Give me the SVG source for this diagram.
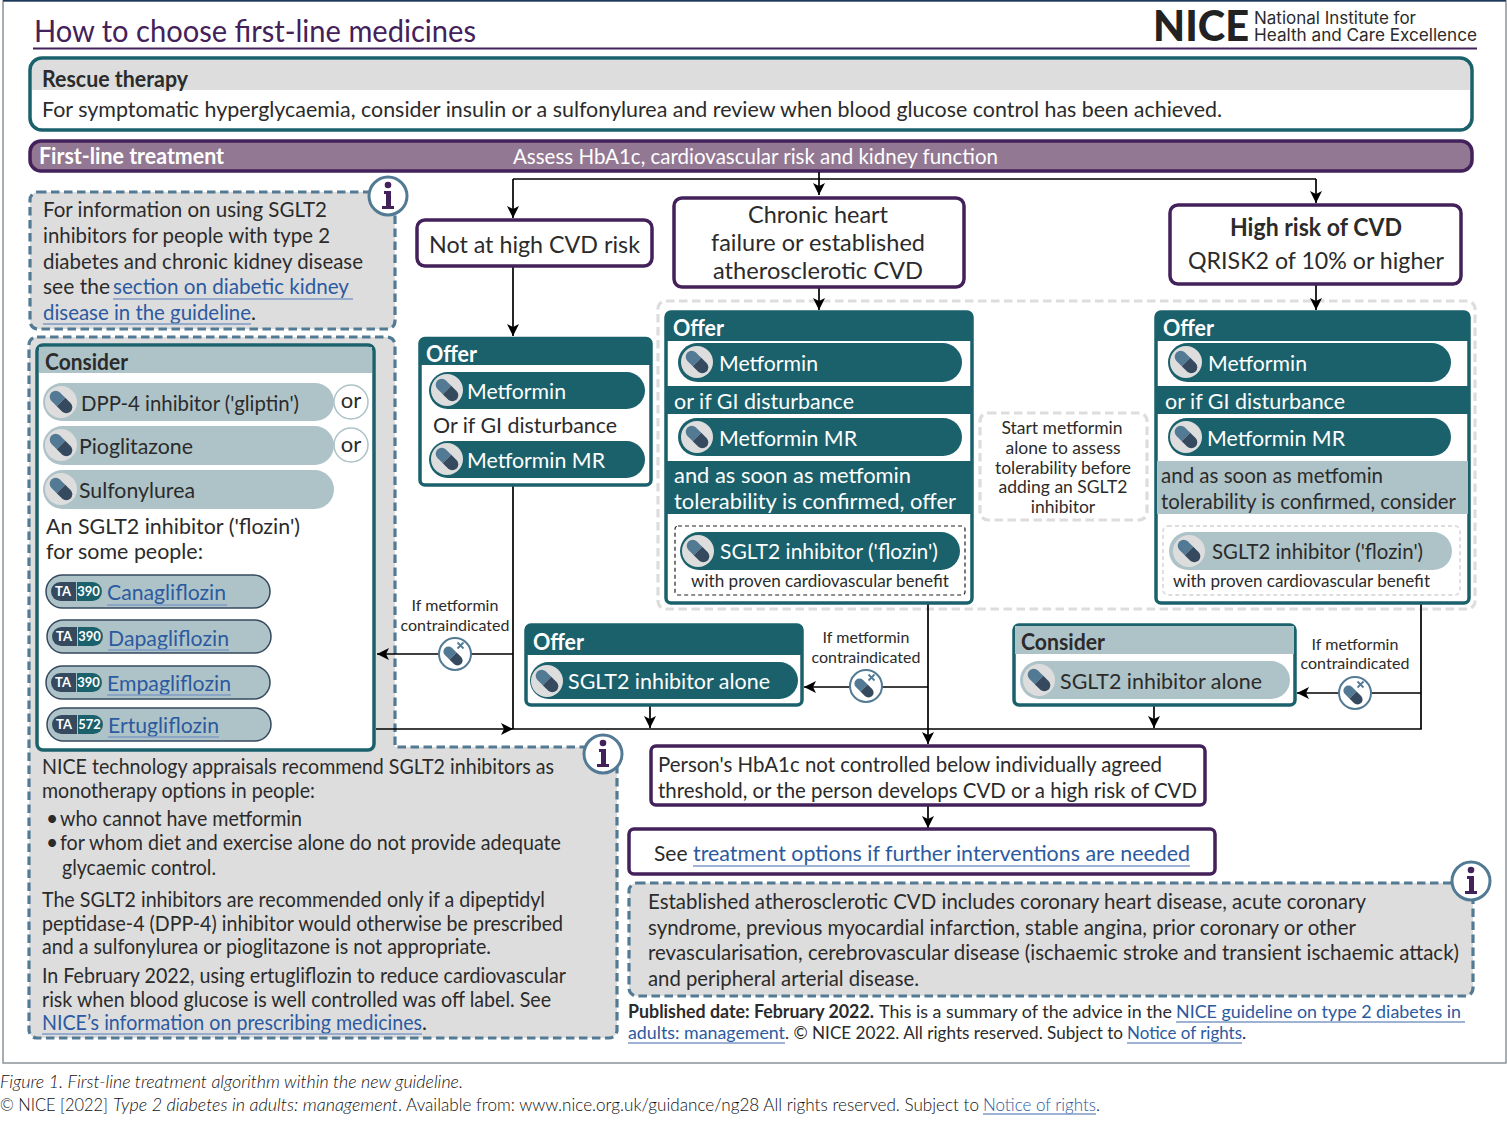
<svg xmlns="http://www.w3.org/2000/svg" width="1507" height="1121" viewBox="0 0 1507 1121">
<style>
text{font-family:"Lato","Carlito","Open Sans","Liberation Sans",sans-serif;fill:#2b2b2b;font-size:22px}
.b{font-weight:700}
.w{fill:#fff}
.l{fill:#2b5aa0}
.ul{stroke:#7f9bc6;stroke-width:1.5;fill:none}
.s{font-size:16px}
.c{text-anchor:middle}
.h{font-size:24px}
.n{font-size:17.5px}
.p{font-size:18px}
.t{font-size:21px}
.cap{font-size:17.5px;font-weight:300;fill:#111}
.i{font-style:italic}
.teal{fill:#1b616c}
.pale{fill:#aec3c8}
.box{fill:#fff;stroke:#1b616c;stroke-width:3.5}
.pur{fill:#fff;stroke:#43215a;stroke-width:3.5}
.info{fill:#ddd;stroke:#537a94;stroke-width:3.2;stroke-dasharray:8.500 4.500}
.lt{fill:none;stroke:#ddd;stroke-width:3.2;stroke-dasharray:8.500 4.500}
.cn{fill:none;stroke:#000;stroke-width:1.7}
.ta{font-size:13px;fill:#fff;font-weight:700}
.tp{fill:#aec3c8;stroke:#35495f;stroke-width:1.500}
</style>
<defs>
<marker id="ah" markerUnits="userSpaceOnUse" markerWidth="14" markerHeight="14" refX="12" refY="6" orient="auto"><path d="M0 0L12 6L0 12L3 6Z" fill="#000"/></marker>
<g id="cap"><g transform="rotate(45)"><path d="M0-6H-7.500a6 6 0 0 0 0 12H0Z" fill="#537a94"/><path d="M0-6H7.500a6 6 0 0 1 0 12H0Z" fill="#35495f"/></g></g>
<g id="pill"><circle r="16" fill="#ddd"/><use href="#cap"/></g>
<g id="nopill"><circle r="16" fill="#fff" stroke="#537a94" stroke-width="2"/><use href="#cap" transform="translate(-2 2) scale(.85)"/><path d="M2.500-11.500L8.500-5.500M8.500-11.500L2.500-5.500" stroke="#537a94" stroke-width="1.800"/></g>
<g id="i"><circle r="19" fill="#fff" stroke="#537a94" stroke-width="3"/><circle cy="-11" r="3.300" fill="#43215a"/><path d="M-4-5H3V10H6V13H-6V10H-2V-2H-4Z" fill="#43215a"/></g>
</defs>

<g id="frame"><path d="M3 1H1506V1063H3Z" fill="#fff" stroke="#8c9299" stroke-width="1.500"/><path d="M3 .7H1506" stroke="#1c3a5e" stroke-width="1.500"/></g>

<g id="header">
<text x="34" y="42" style="font-size:30px;fill:#43215a" textLength="442" lengthAdjust="spacingAndGlyphs">How to choose first-line medicines</text>
<path d="M33 48.500H1477" stroke="#43215a" stroke-width="1.800"/>
<text x="1153" y="41" style="font-size:42px;font-weight:900;fill:#222" textLength="96" lengthAdjust="spacingAndGlyphs">NICE</text>
<text x="1254" y="23.500" style="font-size:17px;font-family:Inter,sans-serif" textLength="162" lengthAdjust="spacingAndGlyphs">National Institute for</text>
<text x="1254" y="41" style="font-size:17px;font-family:Inter,sans-serif" textLength="223" lengthAdjust="spacingAndGlyphs">Health and Care Excellence</text>
</g>

<g id="rescue">
<rect x="30" y="58" width="1442" height="72" rx="12" fill="#fff"/>
<path d="M32 90V70A10 10 0 0 1 42 60H1460A10 10 0 0 1 1470 70V90Z" fill="#ddd"/>
<rect x="30" y="58" width="1442" height="72" rx="12" fill="none" stroke="#1b616c" stroke-width="3.500"/>
<text x="42" y="87" class="b" textLength="146" lengthAdjust="spacingAndGlyphs">Rescue therapy</text>
<text x="42" y="117" textLength="1180" lengthAdjust="spacingAndGlyphs">For symptomatic hyperglycaemia, consider insulin or a sulfonylurea and review when blood glucose control has been achieved.</text>
</g>

<g id="first-line">
<rect x="30" y="141" width="1442" height="30" rx="11" fill="#937894" stroke="#43215a" stroke-width="3.500"/>
<text x="39" y="164" class="b w" textLength="185" lengthAdjust="spacingAndGlyphs">First-line treatment</text>
<text x="513" y="164" class="w t" textLength="485" lengthAdjust="spacingAndGlyphs">Assess HbA1c, cardiovascular risk and kidney function</text>
</g>

<g id="info-ckd">
<rect x="30" y="192" width="365" height="137" rx="8" class="info"/>
<text x="43" y="217" class="t" textLength="284" lengthAdjust="spacingAndGlyphs">For information on using SGLT2</text>
<text x="43" y="243" class="t" textLength="287" lengthAdjust="spacingAndGlyphs">inhibitors for people with type 2</text>
<text x="43" y="269" class="t" textLength="320" lengthAdjust="spacingAndGlyphs">diabetes and chronic kidney disease</text>
<text x="43" y="294" class="t">see the <tspan x="113" class="l t" textLength="236" lengthAdjust="spacingAndGlyphs">section on diabetic kidney</tspan></text>
<text x="43" y="320" class="t"><tspan class="l t" textLength="208" lengthAdjust="spacingAndGlyphs">disease in the guideline</tspan><tspan x="251">.</tspan></text>
<path class="ul" d="M113 299H353M43 324H251"/>
<use href="#i" x="388" y="196"/>
</g>

<g id="info-ta">
<path class="info" d="M37 337H387A8 8 0 0 1 395 345V747H609A8 8 0 0 1 617 755V1030A8 8 0 0 1 609 1038H37A8 8 0 0 1 29 1030V345A8 8 0 0 1 37 337Z"/>
<text x="42" y="774" class="t" textLength="512" lengthAdjust="spacingAndGlyphs">NICE technology appraisals recommend SGLT2 inhibitors as</text>
<text x="42" y="798" class="t" textLength="273" lengthAdjust="spacingAndGlyphs">monotherapy options in people:</text>
<text x="46" y="826" class="t">•</text><text x="60" y="826" class="t" textLength="242" lengthAdjust="spacingAndGlyphs">who cannot have metformin</text>
<text x="46" y="850" class="t">•</text><text x="60" y="850" class="t" textLength="501" lengthAdjust="spacingAndGlyphs">for whom diet and exercise alone do not provide adequate</text>
<text x="62" y="875" class="t" textLength="154" lengthAdjust="spacingAndGlyphs">glycaemic control.</text>
<text x="42" y="907" class="t" textLength="503" lengthAdjust="spacingAndGlyphs">The SGLT2 inhibitors are recommended only if a dipeptidyl</text>
<text x="42" y="931" class="t" textLength="521" lengthAdjust="spacingAndGlyphs">peptidase-4 (DPP-4) inhibitor would otherwise be prescribed</text>
<text x="42" y="954" class="t" textLength="449" lengthAdjust="spacingAndGlyphs">and a sulfonylurea or pioglitazone is not appropriate.</text>
<text x="42" y="983" class="t" textLength="524" lengthAdjust="spacingAndGlyphs">In February 2022, using ertugliflozin to reduce cardiovascular</text>
<text x="42" y="1007" class="t" textLength="509" lengthAdjust="spacingAndGlyphs">risk when blood glucose is well controlled was off label. See</text>
<text x="42" y="1030" class="t"><tspan class="l t" textLength="380" lengthAdjust="spacingAndGlyphs">NICE’s information on prescribing medicines</tspan><tspan x="422">.</tspan></text>
<path class="ul" d="M42 1034H422"/>
<use href="#i" x="603" y="754"/>
</g>

<g id="consider-left">
<rect x="37" y="345" width="337" height="405" rx="6" class="box"/>
<rect x="39" y="347" width="333" height="26" class="pale"/>
<text x="45" y="370" class="b" textLength="83" lengthAdjust="spacingAndGlyphs">Consider</text>
<rect x="43" y="383" width="291" height="38" rx="19" class="pale"/><use href="#pill" x="61" y="402"/>
<text x="81" y="411" class="t" textLength="218" lengthAdjust="spacingAndGlyphs">DPP-4 inhibitor ('gliptin')</text>
<rect x="43" y="426" width="291" height="39" rx="19.500" class="pale"/><use href="#pill" x="61" y="445"/>
<text x="79" y="454" textLength="114" lengthAdjust="spacingAndGlyphs">Pioglitazone</text>
<rect x="43" y="470" width="291" height="39" rx="19.500" class="pale"/><use href="#pill" x="61" y="489"/>
<text x="79" y="498" textLength="116" lengthAdjust="spacingAndGlyphs">Sulfonylurea</text>
<circle cx="351" cy="402" r="17" fill="#fff" stroke="#aec3c8" stroke-width="1.500"/><text x="351" y="408" class="c">or</text>
<circle cx="351" cy="445" r="17" fill="#fff" stroke="#aec3c8" stroke-width="1.500"/><text x="351" y="452" class="c">or</text>
<text x="46" y="534" textLength="254" lengthAdjust="spacingAndGlyphs">An SGLT2 inhibitor ('flozin')</text>
<text x="46" y="559" textLength="157" lengthAdjust="spacingAndGlyphs">for some people:</text>

<g id="canagliflozin"><rect x="46" y="575" width="224" height="33" rx="16.500" class="tp"/>
<path d="M76 582H60.500a9.500 9.500 0 0 0 0 19H76Z" fill="#35495f"/><path d="M77 582H92.500a9.500 9.500 0 0 1 0 19H77Z" class="teal"/>
<text x="63" y="596" class="ta c">TA</text><text x="88.500" y="596" class="ta c">390</text>
<text x="107" y="600" class="l" textLength="119" lengthAdjust="spacingAndGlyphs">Canagliflozin</text><path class="ul" d="M107 605H227"/></g>
<g id="dapagliflozin"><rect x="47" y="620" width="224" height="33" rx="16.500" class="tp"/>
<path d="M77 627H61.500a9.500 9.500 0 0 0 0 19H77Z" fill="#35495f"/><path d="M78 627H93.500a9.500 9.500 0 0 1 0 19H78Z" class="teal"/>
<text x="64" y="641" class="ta c">TA</text><text x="89.500" y="641" class="ta c">390</text>
<text x="108" y="646" class="l" textLength="121" lengthAdjust="spacingAndGlyphs">Dapagliflozin</text><path class="ul" d="M108 650H229"/></g>
<g id="empagliflozin"><rect x="46" y="666" width="224" height="33" rx="16.500" class="tp"/>
<path d="M76 673H60.500a9.500 9.500 0 0 0 0 19H76Z" fill="#35495f"/><path d="M77 673H92.500a9.500 9.500 0 0 1 0 19H77Z" class="teal"/>
<text x="63" y="687" class="ta c">TA</text><text x="88.500" y="687" class="ta c">390</text>
<text x="107" y="691" class="l" textLength="124" lengthAdjust="spacingAndGlyphs">Empagliflozin</text><path class="ul" d="M107 695H231"/></g>
<g id="ertugliflozin"><rect x="47" y="708" width="224" height="33" rx="16.500" class="tp"/>
<path d="M77 715H61.500a9.500 9.500 0 0 0 0 19H77Z" fill="#35495f"/><path d="M78 715H93.500a9.500 9.500 0 0 1 0 19H78Z" class="teal"/>
<text x="64" y="729" class="ta c">TA</text><text x="89.500" y="729" class="ta c">572</text>
<text x="108" y="733" class="l" textLength="111" lengthAdjust="spacingAndGlyphs">Ertugliflozin</text><path class="ul" d="M108 737H219"/></g>
</g>

<g id="light-dashed">
<rect x="658" y="301" width="817" height="308" rx="8" class="lt"/>
</g>
<g id="start-note">
<rect x="980" y="413" width="167" height="107" rx="8" class="lt"/>
<text x="1062" y="434" class="c n">Start metformin</text>
<text x="1063" y="454" class="c n">alone to assess</text>
<text x="1063" y="474" class="c n">tolerability before</text>
<text x="1063" y="493" class="c n">adding an SGLT2</text>
<text x="1063" y="513" class="c n">inhibitor</text>
</g>

<g id="connectors">
<path class="cn" d="M513 179H1316"/>
<path class="cn" d="M819 172V195" marker-end="url(#ah)"/>
<path class="cn" d="M513 179V218" marker-end="url(#ah)"/>
<path class="cn" d="M1316 179V203" marker-end="url(#ah)"/>
<path class="cn" d="M513 267V336" marker-end="url(#ah)"/>
<path class="cn" d="M819 288V310" marker-end="url(#ah)"/>
<path class="cn" d="M1316 285V310" marker-end="url(#ah)"/>
<path class="cn" d="M513 486V729"/>
<path class="cn" d="M513 654H377" marker-end="url(#ah)"/>
<path class="cn" d="M376 729H513" marker-end="url(#ah)"/>
<path class="cn" d="M513 729H1421V603"/>
<path class="cn" d="M928 603V744" marker-end="url(#ah)"/>
<path class="cn" d="M928 687H804" marker-end="url(#ah)"/>
<path class="cn" d="M650 706V728" marker-end="url(#ah)"/>
<path class="cn" d="M1154 706V728" marker-end="url(#ah)"/>
<path class="cn" d="M1421 693H1297" marker-end="url(#ah)"/>
<path class="cn" d="M928 806V828" marker-end="url(#ah)"/>
</g>

<g id="not-high"><rect x="417" y="220" width="235" height="46" rx="8" class="pur"/><text x="429" y="253" class="h" textLength="211" lengthAdjust="spacingAndGlyphs">Not at high CVD risk</text></g>
<g id="chf"><rect x="674" y="198" width="290" height="89" rx="8" class="pur"/>
<text x="748" y="223" class="h" textLength="140" lengthAdjust="spacingAndGlyphs">Chronic heart</text><text x="711" y="251" class="h" textLength="214" lengthAdjust="spacingAndGlyphs">failure or established</text><text x="713" y="279" class="h" textLength="210" lengthAdjust="spacingAndGlyphs">atherosclerotic CVD</text></g>
<g id="high-risk"><rect x="1170" y="205" width="291" height="79" rx="8" class="pur"/>
<text x="1230" y="236" class="h b" textLength="172" lengthAdjust="spacingAndGlyphs">High risk of CVD</text><text x="1188" y="269" class="h" textLength="256" lengthAdjust="spacingAndGlyphs">QRISK2 of 10% or higher</text></g>

<g id="offer-a">
<rect x="420" y="338.500" width="231" height="146.500" rx="5" class="box"/>
<rect x="421" y="339" width="229" height="26" class="teal"/>
<text x="426" y="362" class="b w" textLength="51" lengthAdjust="spacingAndGlyphs">Offer</text>
<rect x="429" y="372" width="216" height="37" rx="18.500" class="teal"/><use href="#pill" x="447" y="390"/>
<text x="467" y="399" class="w" textLength="99" lengthAdjust="spacingAndGlyphs">Metformin</text>
<text x="433" y="433" textLength="184" lengthAdjust="spacingAndGlyphs">Or if GI disturbance</text>
<rect x="429" y="441" width="216" height="37" rx="18.500" class="teal"/><use href="#pill" x="447" y="459"/>
<text x="467" y="468" class="w" textLength="138" lengthAdjust="spacingAndGlyphs">Metformin MR</text>
</g>

<g id="offer-b">
<rect x="666" y="312" width="306" height="291" rx="5" class="box"/>
<path class="teal" d="M667 313H971V341H667ZM667 386H971V414H667ZM667 461H971V514H667Z"/>
<text x="673" y="336" class="b w" textLength="51" lengthAdjust="spacingAndGlyphs">Offer</text>
<rect x="678" y="343" width="284" height="39" rx="19.500" class="teal"/><use href="#pill" x="697" y="362"/>
<text x="719" y="371" class="w" textLength="99" lengthAdjust="spacingAndGlyphs">Metformin</text>
<text x="674" y="409" class="w" textLength="180" lengthAdjust="spacingAndGlyphs">or if GI disturbance</text>
<rect x="678" y="418" width="284" height="38" rx="19" class="teal"/><use href="#pill" x="697" y="437"/>
<text x="719" y="446" class="w" textLength="138" lengthAdjust="spacingAndGlyphs">Metformin MR</text>
<text x="674" y="483" class="w" textLength="237" lengthAdjust="spacingAndGlyphs">and as soon as metfomin</text>
<text x="674" y="509" class="w" textLength="282" lengthAdjust="spacingAndGlyphs">tolerability is confirmed, offer</text>
<rect x="675" y="526" width="290" height="69" rx="3" fill="none" stroke="#222" stroke-width="1.200" stroke-dasharray="4 3"/>
<rect x="680" y="532" width="280" height="38" rx="19" class="teal"/><use href="#pill" x="698" y="551"/>
<text x="720" y="559" class="w t" textLength="218" lengthAdjust="spacingAndGlyphs">SGLT2 inhibitor ('flozin')</text>
<text x="691" y="587" class="p" textLength="258" lengthAdjust="spacingAndGlyphs">with proven cardiovascular benefit</text>
</g>

<g id="offer-c">
<rect x="1156" y="312" width="313" height="291" rx="5" class="box"/>
<path class="teal" d="M1157 313H1468V341H1157ZM1157 386H1468V414H1157Z"/>
<rect x="1157" y="461" width="311" height="53" class="pale"/>
<text x="1163" y="336" class="b w" textLength="51" lengthAdjust="spacingAndGlyphs">Offer</text>
<rect x="1168" y="343" width="283" height="39" rx="19.500" class="teal"/><use href="#pill" x="1186" y="362"/>
<text x="1208" y="371" class="w" textLength="99" lengthAdjust="spacingAndGlyphs">Metformin</text>
<text x="1165" y="409" class="w" textLength="180" lengthAdjust="spacingAndGlyphs">or if GI disturbance</text>
<rect x="1168" y="418" width="283" height="38" rx="19" class="teal"/><use href="#pill" x="1186" y="437"/>
<text x="1207" y="446" class="w" textLength="138" lengthAdjust="spacingAndGlyphs">Metformin MR</text>
<text x="1161" y="483" class="t" textLength="222" lengthAdjust="spacingAndGlyphs">and as soon as metfomin</text>
<text x="1161" y="509" class="t" textLength="295" lengthAdjust="spacingAndGlyphs">tolerability is confirmed, consider</text>
<rect x="1163" y="526" width="297" height="69" rx="5" fill="none" stroke="#ddd" stroke-width="1.800" stroke-dasharray="4 3"/>
<rect x="1169" y="532" width="283" height="38" rx="19" class="pale"/><use href="#pill" x="1189" y="551"/>
<text x="1212" y="559" class="t" textLength="211" lengthAdjust="spacingAndGlyphs">SGLT2 inhibitor ('flozin')</text>
<text x="1173" y="587" class="p" textLength="257" lengthAdjust="spacingAndGlyphs">with proven cardiovascular benefit</text>
</g>

<g id="offer-sglt">
<rect x="526" y="625" width="276" height="80" rx="5" class="box"/>
<rect x="527" y="626" width="274" height="29" class="teal"/>
<text x="533" y="650" class="b w" textLength="51" lengthAdjust="spacingAndGlyphs">Offer</text>
<rect x="530" y="662" width="268" height="37" rx="18.500" class="teal"/><use href="#pill" x="547" y="681"/>
<text x="568" y="689" class="w" textLength="202" lengthAdjust="spacingAndGlyphs">SGLT2 inhibitor alone</text>
</g>

<g id="consider-sglt">
<rect x="1014" y="625" width="281" height="80" rx="5" class="box"/>
<rect x="1015" y="626" width="279" height="28" class="pale"/>
<text x="1021" y="650" class="b" textLength="84" lengthAdjust="spacingAndGlyphs">Consider</text>
<rect x="1020" y="661" width="270" height="38" rx="19" class="pale"/><use href="#pill" x="1039" y="680"/>
<text x="1060" y="689" textLength="202" lengthAdjust="spacingAndGlyphs">SGLT2 inhibitor alone</text>
</g>

<g id="contra-a"><text x="455" y="611" class="s c">If metformin</text><text x="455" y="631" class="s c">contraindicated</text><use href="#nopill" x="455" y="654"/></g>
<g id="contra-b"><text x="866" y="643" class="s c">If metformin</text><text x="866" y="663" class="s c">contraindicated</text><use href="#nopill" x="866" y="686"/></g>
<g id="contra-c"><text x="1355" y="650" class="s c">If metformin</text><text x="1355" y="669" class="s c">contraindicated</text><use href="#nopill" x="1355" y="693"/></g>

<g id="hba1c"><rect x="651" y="746" width="554" height="59" rx="5" class="pur"/>
<text x="658" y="772" class="t" textLength="504" lengthAdjust="spacingAndGlyphs">Person's HbA1c not controlled below individually agreed</text>
<text x="658" y="798" class="t" textLength="539" lengthAdjust="spacingAndGlyphs">threshold, or the person develops CVD or a high risk of CVD</text></g>
<g id="see"><rect x="629" y="829" width="586" height="45" rx="5" class="pur"/>
<text x="654" y="861" class="t">See <tspan x="693" class="l t" textLength="497" lengthAdjust="spacingAndGlyphs">treatment options if further interventions are needed</tspan></text>
<path class="ul" d="M693 866H1190"/></g>

<g id="info-cvd">
<rect x="629" y="883" width="844" height="113" rx="8" class="info"/>
<text x="648" y="909" class="t" textLength="718" lengthAdjust="spacingAndGlyphs">Established atherosclerotic CVD includes coronary heart disease, acute coronary</text>
<text x="648" y="935" class="t" textLength="708" lengthAdjust="spacingAndGlyphs">syndrome, previous myocardial infarction, stable angina, prior coronary or other</text>
<text x="648" y="960" class="t" textLength="811" lengthAdjust="spacingAndGlyphs">revascularisation, cerebrovascular disease (ischaemic stroke and transient ischaemic attack)</text>
<text x="648" y="986" class="t" textLength="271" lengthAdjust="spacingAndGlyphs">and peripheral arterial disease.</text>
<use href="#i" x="1471" y="881"/>
</g>

<g id="published">
<text x="628" y="1018" class="p"><tspan class="b" textLength="246" lengthAdjust="spacingAndGlyphs">Published date: February 2022.</tspan> <tspan x="879" textLength="293" lengthAdjust="spacingAndGlyphs">This is a summary of the advice in the</tspan> <tspan x="1176" class="l" textLength="285" lengthAdjust="spacingAndGlyphs">NICE guideline on type 2 diabetes in</tspan></text>
<text x="628" y="1039" class="p"><tspan class="l" textLength="157" lengthAdjust="spacingAndGlyphs">adults: management</tspan><tspan x="785" textLength="338" lengthAdjust="spacingAndGlyphs">. © NICE 2022. All rights reserved. Subject to</tspan> <tspan x="1127" class="l" textLength="115" lengthAdjust="spacingAndGlyphs">Notice of rights</tspan><tspan x="1242">.</tspan></text>
<path class="ul" d="M1176 1022H1465M628 1043H785M1127 1043H1242"/>
</g>

<g id="caption">
<text x="0" y="1088" class="cap i" textLength="463" lengthAdjust="spacingAndGlyphs">Figure 1. First-line treatment algorithm within the new guideline.</text>
<text x="0" y="1111" class="cap"><tspan textLength="108" lengthAdjust="spacingAndGlyphs">© NICE [2022]</tspan> <tspan x="113" class="i" textLength="285" lengthAdjust="spacingAndGlyphs">Type 2 diabetes in adults: management</tspan><tspan x="398" textLength="581" lengthAdjust="spacingAndGlyphs">. Available from: www.nice.org.uk/guidance/ng28 All rights reserved. Subject to</tspan> <tspan x="983" class="l" textLength="113" lengthAdjust="spacingAndGlyphs">Notice of rights</tspan><tspan x="1096">.</tspan></text>
<path class="ul" d="M983 1114H1096"/>
</g>
</svg>
